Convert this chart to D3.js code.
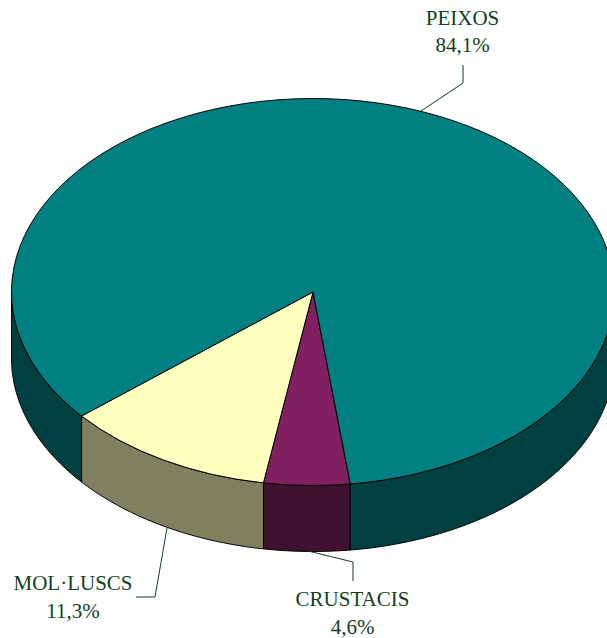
<!DOCTYPE html>
<html>
<head>
<meta charset="utf-8">
<script src="https://cdn.jsdelivr.net/npm/d3@7"></script>
<style>html,body{margin:0;padding:0;background:#fff;overflow:hidden}svg{display:block}</style>
</head>
<body>
<script>
const categories = ["CRUSTACIS", "MOL·LUSCS", "PEIXOS"];
const values = [4.6, 11.3, 84.1];
const valueLabels = ["4,6%", "11,3%", "84,1%"];

const W = 607, H = 638;
const cx = 313, cy = 292, rx = 301.5, ry = 193.5, depth = 66;
const topColors = ["#802060", "#FFFFC0", "#008080"];
const sideColors = ["#401030", "#808060", "#004040"];
const textColor = "#123f1c";

const layout = [
  {x: 352.5, y1: 606, y2: 634, leader: [[308, 551], [353, 562], [353, 581]]},
  {x: 73, y1: 590, y2: 618, leader: [[167, 528], [155, 597], [136, 597]]},
  {x: 462.5, y1: 25, y2: 52, leader: [[421, 111], [463, 83], [463, 65]]}
];

const startDeg = 172.9;
const pie = d3.pie().sort(null)
  .startAngle(startDeg * Math.PI / 180)
  .endAngle((startDeg + 360) * Math.PI / 180);
const arcs = pie(values);

const svg = d3.select("body").append("svg").attr("width", W).attr("height", H);
const line = d3.line().curve(d3.curveLinear);
const px = a => cx + rx * Math.sin(a);
const py = (a, dy = 0) => cy - ry * Math.cos(a) + dy;
const samples = (a0, a1) => {
  const n = Math.max(2, Math.ceil(Math.abs(a1 - a0) / 0.01));
  return d3.range(n + 1).map(i => a0 + (a1 - a0) * i / n);
};

// Side walls: only the front half of the rim (90° to 270°, modulo a turn) is visible
const frontWindows = [[Math.PI / 2, 3 * Math.PI / 2], [5 * Math.PI / 2, 7 * Math.PI / 2]];
const walls = svg.append("g");
arcs.forEach((d, i) => {
  frontWindows.forEach(([lo, hi]) => {
    const a0 = Math.max(d.startAngle, lo), a1 = Math.min(d.endAngle, hi);
    if (a1 <= a0) return;
    const s = samples(a0, a1);
    const pts = s.map(a => [px(a), py(a)])
      .concat(s.slice().reverse().map(a => [px(a), py(a, depth)]));
    walls.append("path")
      .attr("d", line(pts) + "Z")
      .attr("fill", sideColors[i])
      .attr("stroke", "#000").attr("stroke-width", 1).attr("stroke-linejoin", "round");
  });
});

// Top faces, d3.arc squashed into the ellipse
const arcGen = d3.arc().innerRadius(0).outerRadius(rx);
const tops = svg.append("g")
  .attr("transform", `translate(${cx},${cy}) scale(1,${ry / rx})`);
tops.selectAll("path").data(arcs).join("path")
  .attr("d", arcGen)
  .attr("fill", (d, i) => topColors[i])
  .attr("stroke", "#000").attr("stroke-width", 1)
  .attr("stroke-linejoin", "round")
  .attr("vector-effect", "non-scaling-stroke");

// Leader lines
svg.append("g").selectAll("path").data(layout).join("path")
  .attr("d", d => line(d.leader))
  .attr("fill", "none").attr("stroke", textColor).attr("stroke-width", 1);

// Labels
const labels = svg.append("g")
  .attr("font-family", "'Liberation Serif','Times New Roman',serif")
  .attr("font-size", 21).attr("fill", textColor).attr("text-anchor", "middle");
categories.forEach((c, i) => {
  labels.append("text").attr("x", layout[i].x).attr("y", layout[i].y1).text(c);
  labels.append("text").attr("x", layout[i].x).attr("y", layout[i].y2).text(valueLabels[i]);
});
</script>
</body>
</html>
